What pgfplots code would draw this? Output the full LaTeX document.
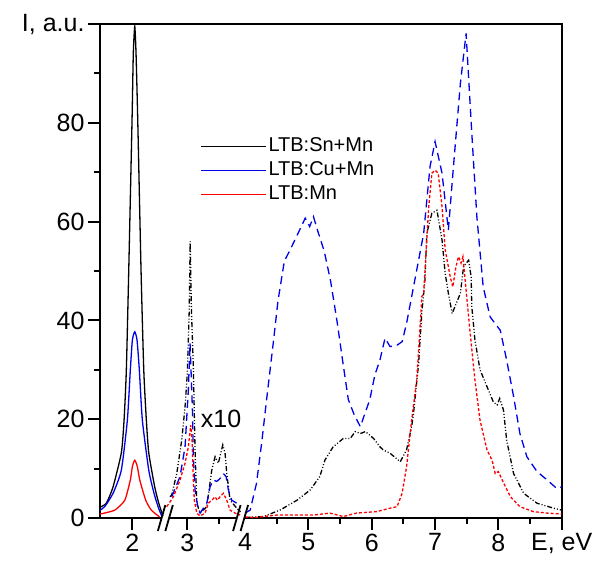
\documentclass[border=0pt]{standalone}
\usepackage{fontspec}
\setmainfont{Liberation Sans}
\usepackage{pgfplots}
\usepackage{pgfplotstable}
\pgfplotsset{compat=1.18}

% segment 1 (E < 2.5), solid
\pgfplotstableread{
E v
1.489 2.2
1.589 3.0
1.695 6.3
1.826 13.2
1.869 19.8
1.905 30.0
1.943 50.2
1.995 80.6
2.015 94.1
2.038 99.5
2.058 94.1
2.085 80.6
2.137 50.2
2.180 30.0
2.221 19.8
2.259 13.2
2.353 6.3
2.417 3.0
2.485 0.3
}\blackA
\pgfplotstableread{
E v
1.489 1.6
1.563 2.3
1.695 5.0
1.826 9.7
1.921 19.8
1.968 30.0
2.000 36.0
2.038 37.7
2.074 36.0
2.110 30.0
2.158 19.8
2.259 9.7
2.342 5.0
2.406 2.3
2.469 0.2
}\blueA
\pgfplotstableread{
E v
1.489 0.8
1.722 1.6
1.880 3.6
1.968 7.7
2.000 10.4
2.038 11.7
2.079 10.4
2.117 7.7
2.211 3.6
2.300 1.6
2.432 0.2
}\redA
% segment 2 (x10)
\pgfplotstableread{
E v
2.727 4.3
2.754 4.7
2.833 9.0
2.912 15.8
2.964 22.5
3.000 29.3
3.030 42.0
3.045 56.0
3.065 42.0
3.095 30.6
3.122 13.8
3.149 3.0
3.201 1.0
3.307 2.3
3.386 9.7
3.438 12.4
3.490 11.1
3.560 14.8
3.596 13.1
3.623 9.0
3.675 3.6
3.781 2.0
3.860 1.0
}\blackB
\pgfplotstableread{
E v
2.754 4.3
2.885 8.4
2.964 14.4
3.016 25.9
3.043 35.4
3.079 22.5
3.095 12.4
3.122 5.7
3.174 1.6
3.201 1.0
3.307 3.0
3.359 6.3
3.411 7.7
3.465 7.4
3.517 8.0
3.569 9.0
3.612 8.4
3.648 5.7
3.702 3.6
3.781 3.0
3.833 2.3
}\blueB
\pgfplotstableread{
E v
2.675 2.3
2.780 4.3
2.885 7.7
2.964 11.1
3.016 14.4
3.054 18.8
3.075 15.8
3.095 7.7
3.111 3.6
3.149 1.0
3.201 0.4
3.280 1.0
3.332 3.0
3.386 3.6
3.438 4.3
3.474 3.6
3.517 4.3
3.569 5.0
3.623 3.6
3.675 1.6
3.754 1.0
3.833 0.6
}\redB
% segment 3 (E >= 4)
\pgfplotstableread{
E v
4.00 0.1
4.29 0.3
4.55 1.6
4.82 3.6
5.03 5.7
5.18 8.4
5.26 11.7
5.39 14.4
5.55 16.1
5.66 16.1
5.74 17.5
5.82 17.1
5.90 17.5
6.03 16.1
6.13 14.4
6.18 13.8
6.29 13.1
6.45 11.4
6.55 13.8
6.63 18.5
6.66 21.2
6.74 31.3
6.79 41.4
6.84 48.2
6.87 57.6
6.95 61.7
7.03 62.3
7.11 56.3
7.16 49.5
7.21 45.5
7.27 41.4
7.40 45.5
7.45 50.9
7.53 52.2
7.57 48.8
7.58 42.8
7.63 36.0
7.71 30.0
7.82 26.6
7.92 23.5
7.98 22.9
8.02 24.2
8.08 21.9
8.13 15.8
8.24 9.0
8.40 5.0
8.61 3.0
8.87 2.0
9.00 1.6
}\blackC
\pgfplotstableread{
E v
4.00 1.0
4.08 1.6
4.18 7.0
4.26 15.0
4.34 24.0
4.45 36.0
4.52 44.0
4.62 52.0
4.72 54.5
4.85 58.0
4.95 60.7
5.02 59.0
5.08 61.0
5.15 58.0
5.25 54.0
5.35 48.0
5.45 40.0
5.55 31.0
5.63 24.0
5.72 21.0
5.82 18.5
5.97 24.0
6.05 29.0
6.13 32.0
6.21 36.4
6.29 34.7
6.40 35.0
6.48 35.7
6.55 39.4
6.66 46.8
6.82 57.6
6.92 71.1
7.00 76.2
7.11 69.8
7.21 58.3
7.29 71.1
7.40 88.0
7.49 98.1
7.58 77.9
7.66 61.0
7.76 46.8
7.87 40.7
8.03 38.0
8.13 32.0
8.24 24.6
8.34 17.1
8.45 12.4
8.61 9.4
8.77 7.7
8.92 6.0
9.00 6.3
}\blueC
\pgfplotstableread{
E v
4.00 0.2
4.16 0.1
4.50 0.6
5.08 0.6
5.34 1.0
5.55 0.3
5.76 1.0
6.08 1.3
6.29 2.0
6.40 2.3
6.48 5.0
6.55 10.4
6.63 19.8
6.71 27.9
6.76 38.0
6.79 44.8
6.82 45.5
6.90 63.0
6.95 69.8
7.00 70.4
7.05 69.8
7.11 63.0
7.16 54.3
7.24 48.8
7.28 46.8
7.33 50.9
7.37 52.9
7.41 51.6
7.44 52.9
7.48 47.5
7.55 38.0
7.63 27.9
7.71 19.8
7.82 13.8
7.90 11.7
7.95 9.0
8.00 9.4
8.06 7.7
8.19 4.3
8.34 2.3
8.55 1.3
8.77 1.0
9.00 0.8
}\redC

\definecolor{cblue}{RGB}{0,0,235}
\definecolor{cred}{RGB}{255,0,0}

\begin{document}
\begin{tikzpicture}
\begin{axis}[
  scale only axis,
  width=461.7pt, height=494pt,
  xmin=1.709, xmax=9, ymin=0, ymax=100,
  axis line style={line width=2pt},
  every tick/.style={line width=2pt, black},
  tick align=outside, tick pos=left,
  major tick length=12pt, minor tick length=6pt,
  xtick={2.22,3.088,5,6,7,8,9},
  xticklabels={2,3,5,6,7,8,{E, eV}},
  extra x ticks={4}, extra x tick labels={4},
  extra x tick style={major tick length=0pt, xticklabel style={yshift=-12pt}},
  minor xtick={3.588,4.5,5.5,6.5,7.5,8.5},
  ytick={0,20,40,60,80,100},
  yticklabels={0,20,40,60,80,{I, a.u.}},
  minor ytick={10,30,50,70,90},
  /pgf/number format/assume math mode=true,
  ticklabel style={font=\fontsize{25}{30}\selectfont},
  legend style={at={(rel axis cs:0.2166,0.7747)}, anchor=north west, draw=none, fill=none,
    inner sep=0pt, row sep=2pt,
    font=\fontsize{20}{23}\selectfont,
    nodes={inner sep=2pt, text height=14pt, text depth=4pt}},
  legend cell align=left,
  legend image code/.code={\draw[#1] (0pt,0pt) -- (65pt,0pt);},
  every axis plot/.append style={line width=1.3pt},
]
\addlegendimage{black, line width=1.3pt}
\addlegendentry{LTB:Sn+Mn}
\addlegendimage{color=cblue, line width=1.3pt}
\addlegendentry{LTB:Cu+Mn}
\addlegendimage{color=cred, line width=1.3pt}
\addlegendentry{LTB:Mn}

\addplot[forget plot, black, smooth, tension=0.35] table[x expr=\thisrow{E}+0.22, y=v]{\blackA};
\addplot[forget plot, cblue, smooth, tension=0.35] table[x expr=\thisrow{E}+0.22, y=v]{\blueA};
\addplot[forget plot, cred, smooth, tension=0.35] table[x expr=\thisrow{E}+0.22, y=v]{\redA};

\addplot[forget plot, black, dash pattern=on 5pt off 2pt on 1pt off 2pt on 1pt off 2pt] table[x expr=\thisrow{E}+0.088, y=v]{\blackB};
\addplot[forget plot, cblue, dash pattern=on 8pt off 5pt] table[x expr=\thisrow{E}+0.088, y=v]{\blueB};
\addplot[forget plot, cred, dash pattern=on 3pt off 2pt] table[x expr=\thisrow{E}+0.088, y=v]{\redB};

\addplot[forget plot, black, dash pattern=on 5pt off 2pt on 1pt off 2pt on 1pt off 2pt] table[x=E, y=v]{\blackC};
\addplot[forget plot, cblue, dash pattern=on 8pt off 5pt] table[x=E, y=v]{\blueC};
\addplot[forget plot, cred, dash pattern=on 3pt off 2pt] table[x=E, y=v]{\redC};

\node[font=\fontsize{25}{30}\selectfont] at (axis cs:3.62,20) {x10};

\coordinate (br1) at (axis cs:2.741,0);
\coordinate (br2) at (axis cs:3.929,0);
\coordinate (bbsw) at (rel axis cs:-0.21659,-0.0931);
\coordinate (bbne) at (rel axis cs:1.0721,1.0486);
\end{axis}
\foreach \b in {br1,br2}{
  \fill[white] ([xshift=-3.5pt,yshift=-2pt]\b) rectangle ([xshift=3.5pt,yshift=2pt]\b);
  \draw[line width=1.8pt] ([xshift=-7.5pt,yshift=-13pt]\b) -- ([xshift=0pt,yshift=13pt]\b);
  \draw[line width=1.8pt] ([xshift=0pt,yshift=-13pt]\b) -- ([xshift=7.5pt,yshift=13pt]\b);
}
\pgfresetboundingbox
\useasboundingbox (bbsw) rectangle (bbne);
\end{tikzpicture}
\end{document}
